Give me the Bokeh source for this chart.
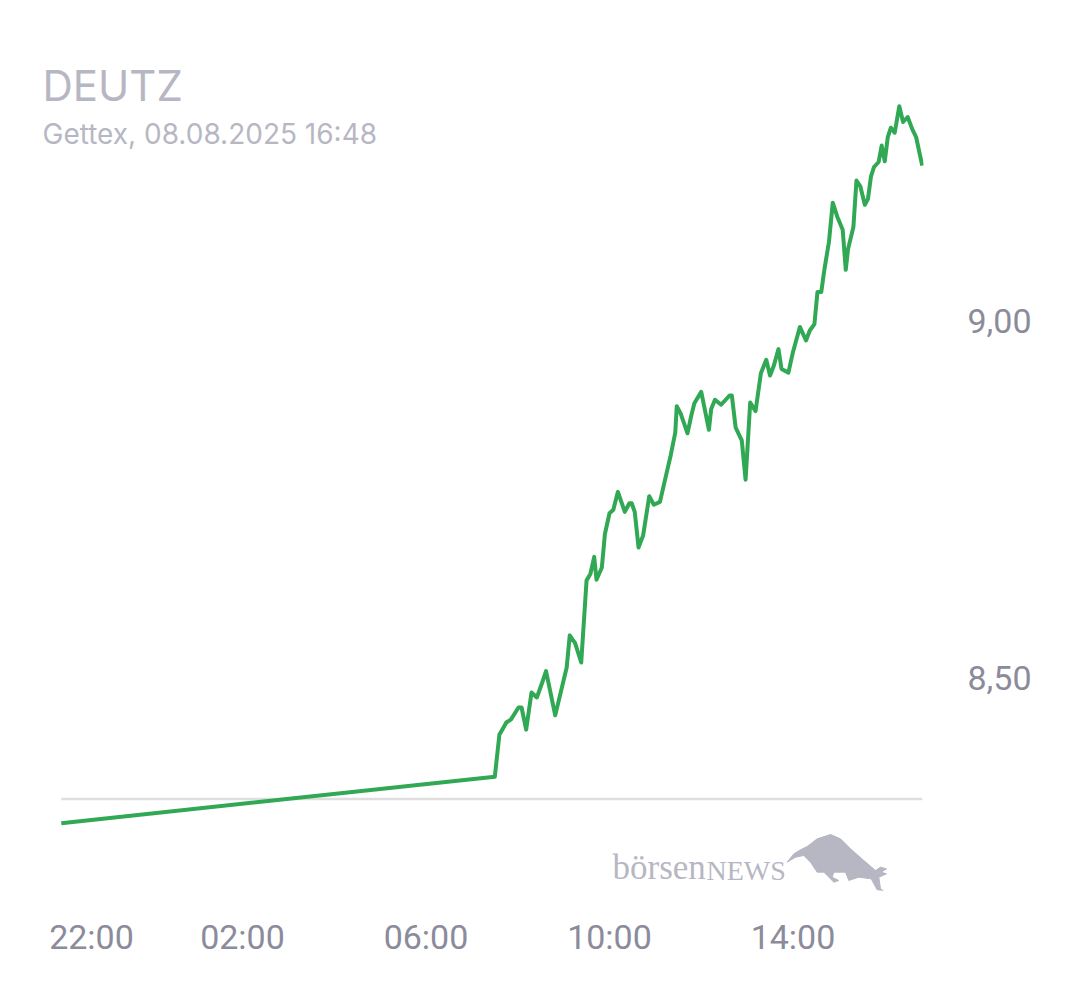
from bokeh.embed import file_html
from bokeh.models import FixedTicker, Label, Range1d
from bokeh.plotting import figure
from bokeh.resources import INLINE

# minutes since 22:00 the evening before
minutes = [3, 570, 576, 582, 585, 591, 601, 605, 611, 618, 625, 632, 637, 649, 664, 668, 675, 683,
           690, 695, 700, 703, 710, 714, 720, 725, 731, 740, 746, 749, 753, 758, 764, 772, 778, 786,
           792, 800, 806, 808, 813, 822, 827, 831, 840, 850, 853, 858, 866, 877, 880, 885, 893, 898,
           904, 911, 918, 925, 930, 935, 941, 945, 954, 960, 969, 977, 982, 988, 992, 997, 1001, 1007,
           1012, 1018, 1025, 1029, 1032, 1039, 1043, 1048, 1054, 1058, 1062, 1066, 1072, 1076, 1080,
           1084, 1088, 1093, 1099, 1104, 1110, 1116, 1121, 1129]
prices = [8.296, 8.361, 8.420, 8.431, 8.437, 8.441, 8.458, 8.458, 8.427, 8.479, 8.472, 8.493, 8.509,
          8.447, 8.514, 8.559, 8.548, 8.521, 8.636, 8.645, 8.669, 8.637, 8.654, 8.701, 8.730, 8.735,
          8.760, 8.732, 8.744, 8.744, 8.732, 8.682, 8.699, 8.754, 8.742, 8.746, 8.774, 8.811, 8.843,
          8.880, 8.870, 8.842, 8.867, 8.884, 8.900, 8.847, 8.876, 8.889, 8.882, 8.895, 8.895, 8.850,
          8.832, 8.777, 8.885, 8.873, 8.926, 8.945, 8.923, 8.937, 8.960, 8.932, 8.927, 8.956, 8.991,
          8.972, 8.986, 8.995, 9.040, 9.040, 9.071, 9.110, 9.165, 9.145, 9.127, 9.071, 9.100, 9.131,
          9.196, 9.188, 9.162, 9.170, 9.202, 9.215, 9.222, 9.245, 9.223, 9.257, 9.270, 9.263, 9.300,
          9.278, 9.285, 9.268, 9.257, 9.217]
previous_close = 8.33

x_ticks = [42.5, 240, 480, 720, 960]
x_labels = ["22:00", "02:00", "06:00", "10:00", "14:00"]
y_ticks = [8.5, 9.0]
y_labels = ["8,50", "9,00"]

GREY_TEXT = "#8b8b9b"
PALE = "#b7b7c4"


# page pixel -> data, for the things placed around the chart
def xd(px):
    return (px - 58.5) * 240 / 183.5


def yd(py):
    return 9 - (py - 320) / 714


# the frame starts at the page edge so the title is not clipped
p = figure(width=1064, height=974, output_backend="svg", toolbar_location=None,
           x_range=Range1d(xd(0), xd(923)), y_range=Range1d(yd(890), yd(0)),
           y_axis_location="right", min_border_left=0, min_border_right=141,
           min_border_top=0, min_border_bottom=84)
p.grid.visible = False
p.outline_line_color = None
p.background_fill_color = "white"
p.border_fill_color = "white"

for axis, ticks, labels in [(p.xaxis[0], x_ticks, x_labels), (p.yaxis[0], y_ticks, y_labels)]:
    axis.ticker = FixedTicker(ticks=ticks)
    axis.major_label_overrides = dict(zip(ticks, labels))
    axis.axis_line_color = None
    axis.major_tick_line_color = None
    axis.minor_tick_line_color = None
    axis.major_label_text_font = "Roboto"
    axis.major_label_text_font_size = "34px"
    axis.major_label_text_color = GREY_TEXT
p.xaxis[0].major_label_standoff = 20
p.yaxis[0].major_label_standoff = 38

p.line([minutes[0], minutes[-1]], [previous_close, previous_close], line_color="#dedede", line_width=2.5)
p.line(minutes, prices, line_color="#31a853", line_width=4, line_join="round")

p.add_layout(Label(x=xd(42), y=yd(85), text="DEUTZ", text_font="Inter", text_font_size="42px",
                   text_baseline="alphabetic", text_color=PALE))
p.add_layout(Label(x=xd(42), y=yd(133), text="Gettex, 08.08.2025 16:48", text_font="Inter",
                   text_font_size="28px", text_baseline="alphabetic", text_color=PALE))

# logo
p.add_layout(Label(x=xd(612), y=yd(867), text="börsen", text_font="Liberation Serif",
                   text_font_size="35px", text_baseline="alphabetic", text_color=PALE))
p.add_layout(Label(x=xd(706), y=yd(870), text="NEWS", text_font="Liberation Serif",
                   text_font_size="28px", text_baseline="alphabetic", text_color=PALE))
bull = [(560, 125), (580, 100), (600, 88), (620, 78), (650, 55), (690, 42), (720, 55), (750, 85),
        (790, 120), (825, 150), (840, 140), (858, 145), (842, 155), (858, 160), (835, 170),
        (840, 205), (850, 212), (830, 208), (812, 175), (775, 170), (745, 180), (735, 155),
        (700, 155), (695, 170), (715, 180), (700, 185), (680, 165), (670, 155), (650, 155),
        (630, 125), (610, 105), (585, 110)]
p.patch([xd(600 + bx / 3) for bx, _ in bull], [yd(820 + by / 3) for _, by in bull],
        fill_color=PALE, line_color=PALE, line_width=1)

open("out.html", "w").write(file_html(p, INLINE))
